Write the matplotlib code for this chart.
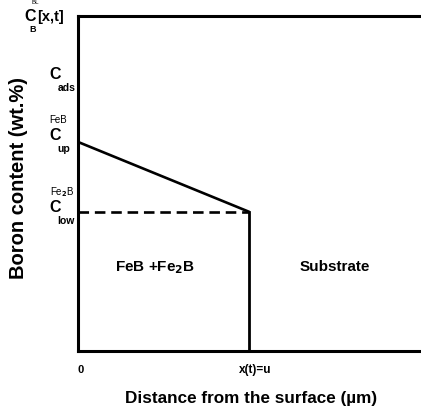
import matplotlib
matplotlib.use("Agg")
import matplotlib.pyplot as plt
import matplotlib.transforms as mtransforms

plt.rcParams['font.family'] = ['Liberation Sans', 'DejaVu Sans']
plt.rcParams['font.weight'] = 'bold'

# ==============================
# DATA
# ==============================

x_front = 1.0          # x(t)=u
x_max = 2.0
c_top = 1.0            # C_B^BL[x,t]
c_ads = 0.815
c_up = 0.624
c_low = 0.415

slope_x = [0.0, x_front]
slope_y = [c_up, c_low]

# ==============================
# FIGURE
# ==============================

fig = plt.figure(figsize=(4.21, 4.16), dpi=100)
ax = fig.add_axes([0.185, 0.156, 0.815, 0.806])

ax.set_xlim(0, x_max)
ax.set_ylim(0, c_top)

ax.plot(slope_x, slope_y, color='black', lw=1.9, solid_capstyle='butt')
ax.plot([0, x_front], [c_low, c_low], color='black', lw=1.9, ls=(0, (4, 2.2)))
ax.plot([x_front, x_front], [0, c_low], color='black', lw=2.0)

for side in ['left', 'bottom', 'top']:
    ax.spines[side].set_linewidth(2.2)
ax.spines['right'].set_visible(False)
ax.set_xticks([])
ax.set_yticks([])

# y "tick" labels built from pieces
trans = mtransforms.blended_transform_factory(ax.transAxes, ax.transData)


def c_label(y, sup, sub, dy_sup=0.046, dy_sub=-0.04):
    ax.text(-0.082, y, "C", transform=trans, fontsize=11.5, ha='left',
            va='center', clip_on=False)
    if sup:
        ax.text(-0.082, y + dy_sup, sup, transform=trans, fontsize=7,
                ha='left', va='center', weight='normal', clip_on=False)
    if sub:
        ax.text(-0.06, y + dy_sub, sub, transform=trans, fontsize=7.5,
                ha='left', va='center', clip_on=False)


c_label(c_ads + 0.01, None, "ads")
c_label(c_up + 0.018, "FeB", "up")
c_label(c_low + 0.012, "Fe$_2$B", "low")

ax.text(-0.155, c_top - 0.003, "C", transform=trans, fontsize=11.5,
        ha='left', va='center', clip_on=False)
ax.text(-0.136, c_top + 0.039, "BL", transform=trans, fontsize=4.5,
        ha='left', va='center', weight='normal', clip_on=False)
ax.text(-0.14, c_top - 0.042, "B", transform=trans, fontsize=6.5,
        ha='left', va='center', clip_on=False)
ax.text(-0.12, c_top - 0.003, "[x,t]", transform=trans, fontsize=10.5,
        ha='left', va='center', clip_on=False)

# x labels
ax.text(0.0, -0.055, "0", transform=ax.transAxes, fontsize=8, ha='left',
        va='center')
ax.text(x_front - 0.06, -0.055, "x(t)=u",
        transform=mtransforms.blended_transform_factory(ax.transData, ax.transAxes),
        fontsize=8.5, ha='left', va='center')

# region labels
ax.text(x_front * 0.45, 0.25, "FeB +Fe$_2$B", ha='center', va='center', fontsize=11)
ax.text((x_front + x_max) / 2, 0.25, "Substrate", ha='center', va='center',
        fontsize=11)

fig.text(0.045, 0.572, "Boron content (wt.%)", rotation=90, ha='center',
         va='center', fontsize=14.5)
fig.text(0.597, 0.043, "Distance from the surface (µm)", ha='center',
         va='center', fontsize=12.3)

fig.savefig("out.png", dpi=100)
